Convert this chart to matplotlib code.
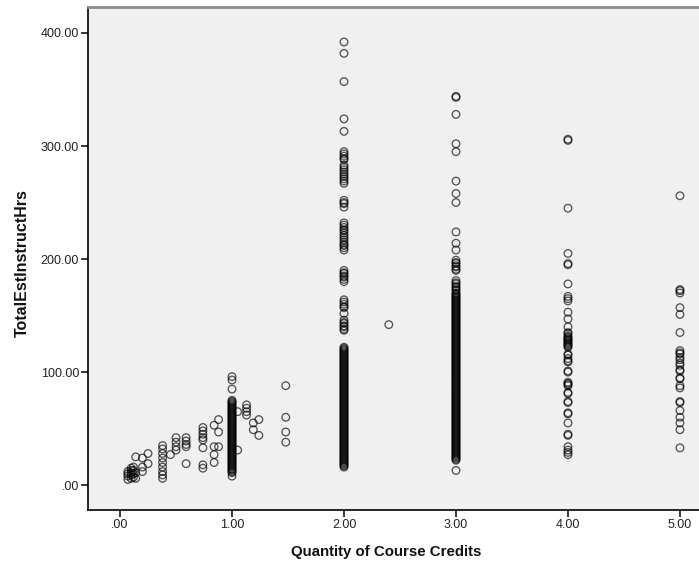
import matplotlib.pyplot as plt

# scattered points at fractional credit values
credits_misc = [0.07, 0.07, 0.07, 0.07, 0.10, 0.10, 0.10, 0.10, 0.10,
                0.12, 0.12, 0.12, 0.12, 0.14, 0.14, 0.14, 0.20, 0.20, 0.20,
                0.25, 0.25, 0.38, 0.38, 0.38, 0.38, 0.38, 0.38, 0.38, 0.38, 0.38,
                0.45, 0.50, 0.50, 0.50, 0.50, 0.59, 0.59, 0.59, 0.59, 0.59,
                0.74, 0.74, 0.74, 0.74, 0.74, 0.74, 0.74, 0.74,
                0.84, 0.84, 0.84, 0.84, 0.88, 0.88, 0.88,
                1.05, 1.05, 1.13, 1.13, 1.13, 1.13, 1.19, 1.19, 1.24, 1.24,
                1.48, 1.48, 1.48, 1.48, 2.40]
hours_misc = [5, 8, 10, 12, 6, 9, 11, 13, 15,
              7, 10, 13, 16, 25, 11, 6, 24, 16, 12,
              28, 19, 35, 32, 28, 24, 20, 16, 12, 9, 6,
              27, 42, 38, 34, 31, 42, 39, 36, 34, 19,
              51, 48, 45, 42, 40, 33, 18, 15,
              53, 34, 27, 20, 58, 47, 34,
              65, 31, 71, 68, 65, 62, 55, 49, 58, 44,
              88, 60, 47, 38, 142]

# whole-number credit columns
hours_1 = [96, 93, 85,
           75, 74, 73, 72, 71, 70, 69, 68, 67, 66, 65, 64, 63, 62, 61,
           60, 59, 58, 57, 56, 55, 54, 53, 52, 51, 50, 49, 48, 47, 46,
           45, 44, 43, 42, 41, 40, 39, 38, 37, 36, 35, 34, 33, 32, 31,
           30, 29, 28, 27, 26, 25, 24, 23, 22, 21, 20, 19, 18, 17, 16,
           15, 14, 13, 12, 11, 8]
hours_2 = [392, 382, 357, 324, 313, 295, 293, 291, 289, 288, 283, 281, 279,
           277, 275, 273, 271, 269, 267, 252, 250, 249, 246, 232, 230, 228,
           226, 225, 223, 221, 219, 217, 215, 213, 212, 210, 208, 190, 188,
           187, 185, 184, 182, 180, 164, 162, 160, 158, 157, 152, 146, 144,
           143, 141, 140, 138, 137,
           122, 121, 120, 119, 118, 117, 116, 115, 114, 113, 112, 111, 110,
           109, 108, 107, 106, 105, 104, 103, 102, 101, 100, 99, 98, 97, 96,
           95, 94, 93, 92, 91, 90, 89, 88, 87, 86, 85, 84, 83, 82, 81, 80,
           79, 78, 77, 76, 75, 74, 73, 72, 71, 70, 69, 68, 67, 66, 65, 64,
           63, 62, 61, 60, 59, 58, 57, 56, 55, 54, 53, 52, 51, 50, 49, 48,
           47, 46, 45, 44, 43, 42, 41, 40, 39, 38, 37, 36, 35, 34, 33, 32,
           31, 30, 29, 28, 27, 26, 25, 24, 23, 22, 21, 20, 19, 18, 17, 16]
hours_3 = [344, 343, 328, 302, 295, 269, 258, 250, 224, 214, 208, 199, 197,
           196, 194, 193, 191, 190, 181, 179, 178, 176, 175, 173, 172,
           170, 169, 168, 167, 166, 165, 164, 163, 162, 161, 160, 159, 158,
           157, 156, 155, 154, 153, 152, 151, 150, 149, 148, 147, 146, 145,
           144, 143, 142, 141, 140, 139, 138, 137, 136, 135, 134, 133, 132,
           131, 130, 129, 128, 127, 126, 125, 124, 123, 122, 121, 120, 119,
           118, 117, 116, 115, 114, 113, 112, 111, 110, 109, 108, 107, 106,
           105, 104, 103, 102, 101, 100, 99, 98, 97, 96, 95, 94, 93, 92, 91,
           90, 89, 88, 87, 86, 85, 84, 83, 82, 81, 80, 79, 78, 77, 76, 75,
           74, 73, 72, 71, 70, 69, 68, 67, 66, 65, 64, 63, 62, 61, 60, 59,
           58, 57, 56, 55, 54, 53, 52, 51, 50, 49, 48, 47, 46, 45, 44, 43,
           42, 41, 40, 39, 38, 37, 36, 35, 34, 33, 32, 31, 30, 29, 28, 27,
           26, 25, 24, 23, 22, 13]
hours_4 = [306, 305, 245, 205, 196, 195, 178, 167, 165, 163, 153, 147, 140,
           135, 134, 132, 131, 130, 129, 128, 127, 126, 125, 124, 123, 122,
           116, 115, 112, 110, 109, 101, 100, 91, 90, 89, 88, 82, 81, 74, 73,
           64, 63, 55, 45, 44, 34, 31, 29, 27]
hours_5 = [256, 173, 172, 170, 157, 151, 135, 119, 117, 116, 113, 111, 108,
           106, 102, 101, 95, 94, 88, 86, 74, 73, 66, 60, 55, 49, 33]

y_ticks = [0, 100, 200, 300, 400]
x_ticks = [0, 1, 2, 3, 4, 5]


def fmt(v):
    s = f"{v:.2f}"
    return s[1:] if s.startswith("0") else s


fig = plt.figure(figsize=(6.99, 5.65), dpi=100)
ax = fig.add_axes([88 / 699, 1 - 510 / 565, 1 - 88 / 699, (510 - 7) / 565])
ax.set_facecolor('#f0f0f0')

mk = dict(s=30, facecolors='none', edgecolors=(0, 0, 0, 0.65), linewidths=0.95)
ax.scatter(credits_misc, hours_misc, **mk)
for c, hrs in [(1, hours_1), (2, hours_2), (3, hours_3), (4, hours_4), (5, hours_5)]:
    ax.scatter([c] * len(hrs), hrs, **mk)

ax.set_xlim(-0.286, 5.17)
ax.set_ylim(-22, 423)

ax.set_xticks(x_ticks)
ax.set_xticklabels([fmt(v) for v in x_ticks])
ax.set_yticks(y_ticks)
ax.set_yticklabels([fmt(v) for v in y_ticks])
ax.tick_params(direction='out', length=5, width=1.1, colors='black',
               labelcolor='#222222', labelsize=9, pad=1.5)
for lab in ax.get_xticklabels() + ax.get_yticklabels():
    lab.set_family('Liberation Sans')

ax.spines['left'].set_color('black')
ax.spines['bottom'].set_color('black')
ax.spines['left'].set_linewidth(1.2)
ax.spines['bottom'].set_linewidth(1.2)
ax.spines['top'].set_color('#8c8c8c')
ax.spines['top'].set_linewidth(2)
ax.spines['right'].set_visible(False)

ax.set_xlabel('Quantity of Course Credits', fontsize=10.8, fontweight='bold',
              family='Liberation Sans', color='#111111')
ax.set_ylabel('TotalEstInstructHrs', fontsize=11.5, fontweight='bold',
              family='Liberation Sans', color='#111111')
ax.xaxis.set_label_coords(0.488, -0.07)
ax.yaxis.set_label_coords(-0.095, 0.49)

fig.savefig('out.png', dpi=100)
